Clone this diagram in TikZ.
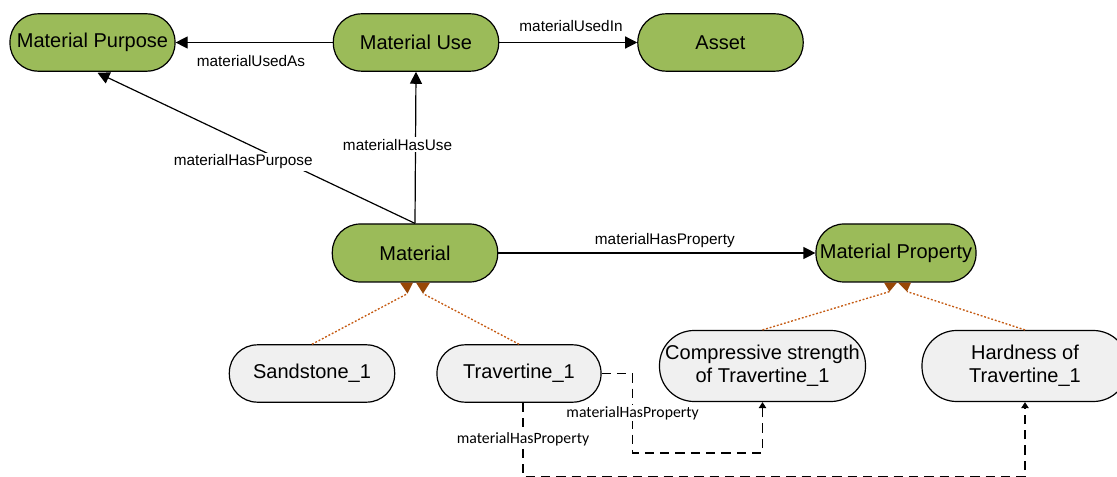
\documentclass[tikz,border=0pt]{standalone}
\usepackage{fontspec}
\setmainfont{Liberation Sans}
\newfontfamily\calibrifont{Carlito}
\usetikzlibrary{arrows.meta,calc}
\definecolor{clsgreen}{HTML}{9BBB59}
\definecolor{instgray}{HTML}{F0F0F0}
\definecolor{subline}{HTML}{C55A11}
\definecolor{subhead}{HTML}{984807}
\begin{document}
\begin{tikzpicture}[x=0.75pt,y=-0.75pt,
  pill/.style={draw=black, line width=0.9pt, rounded corners=21pt,
    minimum width=124pt, minimum height=43pt, inner sep=0pt, align=center,
    font=\fontsize{15}{17.25}\selectfont},
  cls/.style={pill, fill=clsgreen},
  inst/.style={pill, fill=instgray},
  tall/.style={minimum width=154.5pt, minimum height=53.25pt, rounded corners=26pt},
  rel/.style={draw=black, line width=0.9pt, -{Triangle[length=9pt,width=9pt]}},
  lbl/.style={font=\fontsize{11.5}{13}\selectfont, inner sep=1.5pt},
  sub/.style={draw=subline, line width=1pt, dash pattern=on 1.4pt off 1.4pt},
  subtip/.style={fill=subhead},
  prop/.style={draw=black, line width=0.9pt, dash pattern=on 7pt off 4.5pt,
    -{Triangle[length=4.5pt,width=5.5pt]}},
  plbl/.style={font=\calibrifont\fontsize{11.8}{13}\selectfont, fill=white, inner sep=1pt}
]
\fill[white] (0,0) rectangle (1117,477);
\useasboundingbox (0,0) rectangle (1117,477);

% classes
\node[cls, minimum width=123.75pt] (mp) at (92.5,42.5) {Material Purpose};
\node[cls] (mu) at (416,42.5) {Material Use};
\node[cls] (asset) at (720.5,42.5) {Asset};
\node[cls, minimum height=43.5pt] (mat) at (415,253) {Material};
\node[cls, minimum width=120pt, minimum height=43.5pt] (mprop) at (896,253) {Material Property};

% individuals
\node[inst] (sand) at (312,373.5) {Sandstone\_1};
\node[inst, minimum width=123pt] (trav) at (519,373.5) {Travertine\_1};
\node[inst, tall] (comp) at (762.5,366) {Compressive strength\\of Travertine\_1};
\node[inst, tall] (hard) at (1025,366) {Hardness of\\Travertine\_1};

% anchor points for arrow tips
\coordinate (mpTip) at ($(mp.south)+(5,1)$);
\coordinate (travS) at ($(trav.south)+(4,0)$);

% instance-of markers: flat side on the class border, point towards the instance
\coordinate (matLa) at ($(mat.south)+(-15,0)$);
\coordinate (matLb) at ($(mat.south)+(-2,0)$);
\coordinate (matL)  at ($(mat.south)+(-7.5,11)$);
\coordinate (matRa) at ($(mat.south)+(1,0)$);
\coordinate (matRb) at ($(mat.south)+(15,0)$);
\coordinate (matR)  at ($(mat.south)+(8,11)$);
\coordinate (mpropLa) at ($(mprop.south)+(-12,0)$);
\coordinate (mpropLb) at ($(mprop.south)+(1,0)$);
\coordinate (mpropL)  at ($(mprop.south)+(-6.5,9)$);
\coordinate (mpropRa) at ($(mprop.south)+(2,0)$);
\coordinate (mpropRb) at ($(mprop.south)+(15,0)$);
\coordinate (mpropR)  at ($(mprop.south)+(11,9)$);

% object properties
\draw[rel] (mu.west) -- node[lbl, pos=0.52, yshift=-13.9pt] {materialUsedAs} (mp.east);
\draw[rel] (mu.east) -- node[lbl, pos=0.52, yshift=12.4pt] {materialUsedIn} (asset.west);
\draw[rel] (mat.north) -- node[lbl, fill=white, pos=0.52, xshift=-13.5pt] {materialHasUse} (mu.south);
\draw[rel] (mat.north) -- node[lbl, fill=white, pos=0.541, yshift=-15pt] {materialHasPurpose} (mpTip);
\draw[rel] (mat.east) -- node[lbl, yshift=9pt, xshift=6pt] {materialHasProperty} (mprop.west);

% instance-of links
\draw[sub] (sand.north) -- (matL);
\draw[sub] (trav.north) -- (matR);
\draw[sub] (comp.north) -- (mpropL);
\draw[sub] (hard.north) -- (mpropR);
\fill[subtip] (matLa) -- (matLb) -- (matL) -- cycle;
\fill[subtip] (matRa) -- (matRb) -- (matR) -- cycle;
\fill[subtip] (mpropLa) -- (mpropLb) -- (mpropL) -- cycle;
\fill[subtip] (mpropRa) -- (mpropRb) -- (mpropR) -- cycle;

% property assertions
\draw[prop] (trav.east) -- ++(31,0) -- node[plbl] {materialHasProperty} ++(0,79.5) -| (comp.south);
\draw[prop] (travS) -- node[plbl] {materialHasProperty} ++(0,74) -| (hard.south);
\end{tikzpicture}
\end{document}
